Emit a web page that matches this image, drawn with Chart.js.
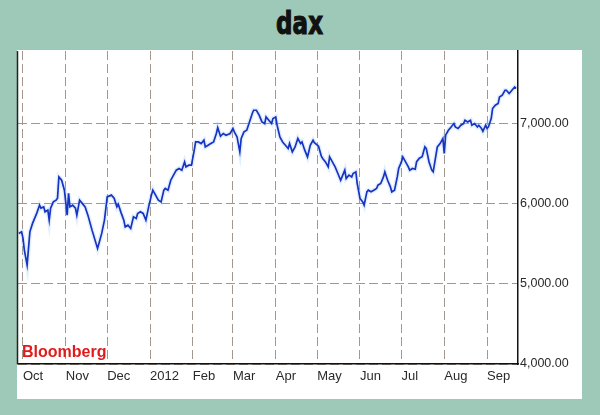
<!DOCTYPE html>
<html>
<head>
<meta charset="utf-8">
<script src="https://cdn.jsdelivr.net/npm/chart.js@4"></script>
<style>
body{margin:0;background:#9ec9b8;}
#wrap{position:relative;width:600px;height:415px;overflow:hidden;}
#panel{position:absolute;left:17px;top:50px;width:565px;height:349px;background:#fff;}
#title{position:absolute;left:0;top:7px;width:600px;text-align:center;}
#title span{display:inline-block;transform:scaleX(0.72);font:bold 32px/32px "DejaVu Sans","Liberation Sans",sans-serif;color:#111;-webkit-text-stroke:1.2px #111;}
#src{position:absolute;left:22px;top:344px;font:bold 16px/16px "Liberation Sans",Arial,sans-serif;color:#e01b1b;z-index:2;}
canvas{position:absolute;left:0;top:0;}
</style>
</head>
<body>
<div id="wrap">
<div id="panel"></div>
<div id="title"><span>dax</span></div>
<canvas id="chart" width="600" height="415"></canvas>
<div id="src">Bloomberg</div>
</div>
<script>
// month starts, in days since 1 Oct 2011
const monthDays=[0,31,61,92,123,152,183,213,244,274,305,336];
const monthLabels=["Oct","Nov","Dec","2012","Feb","Mar","Apr","May","Jun","Jul","Aug","Sep"];
const yTicks=[4000,5000,6000,7000];

// DAX closes (x = days since 1 Oct 2011)
const days=[-3,-1,0,1,3,5,7,10,12,13,
15,16,18,19,20,22,24,25,26,28,
30,32,33,34,36,38,39,41,42,45,
47,50,54,57,59,61,64,66,68,69,
71,73,74,76,78,80,82,83,85,87,
89,91,93,94,96,98,100,102,103,105,
107,109,111,113,115,117,118,120,122,124,
125,127,129,131,132,134,136,138,140,141,
143,145,147,150,152,153,155,157,158,160,
162,164,166,167,169,171,173,175,176,178,
180,181,183,184,186,188,190,192,193,195,
197,199,201,202,204,206,208,210,211,214,
216,217,219,221,222,224,226,228,230,231,
233,234,236,238,239,241,242,244,246,247,
249,250,252,254,256,257,259,261,262,264,
266,267,269,271,272,274,275,277,279,280,
282,284,285,287,289,291,292,294,296,297,
299,300,302,304,305,306,308,310,312,313,
315,317,319,320,322,324,325,327,329,330,
332,333,335,336,337,339,340,342,344,345,
347,349,350,352,354,356,357];
const dax=[5627,5647,5568,5419,5232,5647,5755,5880,5979,5942,
5958,5896,5917,5792,5942,6020,6041,6066,6331,6290,
6166,5855,6128,5958,5979,5942,5855,6041,6020,5958,
5855,5668,5440,5627,5792,6082,6104,6066,5958,5992,
5886,5792,5709,5730,5689,5833,5813,5876,5896,5876,
5792,5958,6104,6166,6104,6041,6020,6166,6187,6166,
6290,6353,6415,6436,6415,6518,6456,6477,6477,6664,
6767,6767,6747,6788,6705,6726,6747,6767,6872,6944,
6838,6872,6851,6872,6934,6892,6829,6643,6810,6892,
6913,7016,7121,7162,7162,7100,7016,6996,7078,7037,
6996,7059,7078,6975,6829,6767,6726,6685,6747,6643,
6705,6810,6747,6767,6664,6580,6726,6788,6757,6714,
6589,6561,6518,6456,6580,6518,6456,6374,6290,6331,
6415,6312,6353,6331,6374,6394,6249,6063,6020,5979,
6145,6166,6145,6166,6187,6228,6249,6331,6394,6290,
6207,6145,6166,6331,6436,6518,6580,6518,6456,6415,
6436,6427,6521,6564,6583,6707,6685,6518,6415,6394,
6602,6705,6747,6810,6623,6851,6913,6954,6996,6954,
6934,6975,6996,7037,7016,7037,6975,6996,6954,6975,
6934,6900,6975,6934,6954,7059,7183,7224,7245,7327,
7349,7411,7411,7370,7411,7452,7432];

const pts=days.map((d,i)=>({x:d,y:dax[i]}));
const tickFont={family:"'Liberation Sans',Arial,sans-serif"};

// left frame line of the plot
const leftBorder={
id:"leftBorder",
afterDatasetsDraw(c){
const a=c.chartArea,ctx=c.ctx;
ctx.save();
ctx.strokeStyle="#222";
ctx.lineWidth=1.5;
ctx.beginPath();
ctx.moveTo(a.left-0.5,a.top);
ctx.lineTo(a.left-0.5,a.bottom);
ctx.stroke();
ctx.restore();
}
};

new Chart(document.getElementById("chart").getContext("2d"),{
type:"line",
data:{datasets:[
{data:pts,borderColor:"#1833c0",borderWidth:1.7,pointRadius:0,tension:0,order:1},
{data:pts,borderColor:"rgba(140,190,255,0.25)",borderWidth:4.5,pointRadius:0,tension:0,order:2}
]},
options:{
responsive:false,animation:false,devicePixelRatio:1,
layout:{padding:{left:18,top:51,right:18,bottom:16}},
plugins:{legend:{display:false},tooltip:{enabled:false}},
scales:{
x:{type:"linear",min:-3.6,max:358.4,
afterBuildTicks:s=>{s.ticks=monthDays.map(v=>({value:v}));},
afterFit:s=>{s.height=35;},
grid:{color:"#a39890",lineWidth:1,drawTicks:false},
border:{color:"#111",width:1.5,dash:[9,4]},
ticks:{align:"start",autoSkip:false,maxRotation:0,padding:5,color:"#2a2a2a",
font:{...tickFont,size:13},callback:(v,i)=>monthLabels[i]}
},
y:{position:"right",min:4000,max:7900,
afterBuildTicks:s=>{s.ticks=yTicks.map(v=>({value:v}));},
afterFit:s=>{s.width=64;},
grid:{color:"#a39890",lineWidth:1,drawTicks:false},
border:{color:"#111",width:1.5,dash:[9,4]},
ticks:{padding:2,color:"#2a2a2a",font:{...tickFont,size:12.5},
callback:v=>v.toLocaleString("en-US",{minimumFractionDigits:2,maximumFractionDigits:2})}
}
}
},
plugins:[leftBorder]
});
</script>
</body>
</html>
